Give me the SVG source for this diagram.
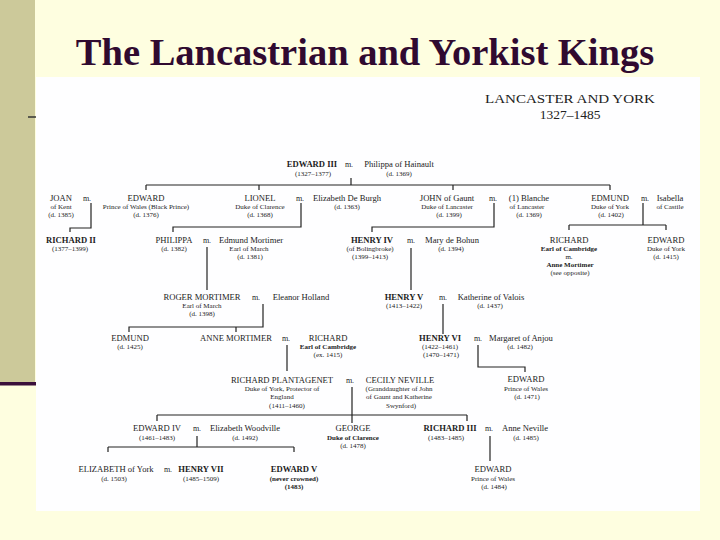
<svg xmlns="http://www.w3.org/2000/svg" width="720" height="540" viewBox="0 0 720 540">
<style>
text{font-family:"Liberation Serif","Times New Roman",serif;fill:#1c1c1c;text-anchor:middle}
.t{font-size:38.5px;font-weight:bold;fill:#300a30}
.h{font-size:13.5px;fill:#222}
.n{font-size:8.6px}
.b{font-weight:bold}
.s{font-size:7px}
.m{font-size:8px}
.ln{fill:none;stroke:#222;stroke-width:1.2}
</style>
<rect width="720" height="540" fill="#fefee0"/>
<rect x="0" y="0" width="35" height="383" fill="#ccc99a"/>
<rect x="0" y="382" width="36" height="3.5" fill="#3a0f3a"/>
<line x1="28" y1="117" x2="36" y2="117" stroke="#333" stroke-width="1.5"/>
<rect x="36" y="77" width="664" height="434" fill="#fefeff"/>
<text class="t" x="365" y="65">The Lancastrian and Yorkist Kings</text>
<g id="header">
<text class="h" x="570" y="103" textLength="170" lengthAdjust="spacingAndGlyphs">LANCASTER AND YORK</text>
<text class="h" x="570" y="118.5">1327–1485</text>
</g>
<g id="connectors" class="ln">
<path d="M351,178V185M146,185H610M146,185V190M259,185V190M453,185V190M610,185V190"/>
<path d="M91,203V228H70V232"/>
<path d="M301,203V227H173V232"/>
<path d="M494,203V227H372V232"/>
<path d="M643,203V225M569,225H666M569,225V230M666,225V230"/>
<path d="M207,247V290"/>
<path d="M411,248V290"/>
<path d="M263,304V327H129V332M236,327V332"/>
<path d="M443,304V334"/>
<path d="M287,345V371"/>
<path d="M478,345V367H525V372"/>
<path d="M352,387V423M157,415H467M157,415V421M467,415V421"/>
<path d="M197,436V447M108,447H294M108,447V452M294,447V452"/>
<path d="M490,436V461"/>
</g>
<g id="edward3">
<text class="n b" x="312" y="167">EDWARD III</text>
<text class="s" x="313" y="176">(1327–1377)</text>
<text class="m" x="349" y="167">m.</text>
<text class="n" x="399" y="167">Philippa of Hainault</text>
<text class="s" x="399" y="176">(d. 1369)</text>
</g>
<g id="joan">
<text class="n" x="61" y="201">JOAN</text>
<text class="s" x="61" y="209">of Kent</text>
<text class="s" x="61" y="217">(d. 1385)</text>
<text class="m" x="87" y="201">m.</text>
</g>
<g id="edward-bp">
<text class="n" x="146" y="201">EDWARD</text>
<text class="s" x="146" y="209">Prince of Wales (Black Prince)</text>
<text class="s" x="146" y="217">(d. 1376)</text>
</g>
<g id="lionel">
<text class="n" x="260" y="201">LIONEL</text>
<text class="s" x="260" y="209">Duke of Clarence</text>
<text class="s" x="260" y="217">(d. 1368)</text>
<text class="m" x="300" y="201">m.</text>
<text class="n" x="347" y="201">Elizabeth De Burgh</text>
<text class="s" x="347" y="209">(d. 1363)</text>
</g>
<g id="john">
<text class="n" x="447" y="201">JOHN of Gaunt</text>
<text class="s" x="447" y="209">Duke of Lancaster</text>
<text class="s" x="449" y="217">(d. 1399)</text>
<text class="m" x="493" y="201">m.</text>
<text class="n" x="529" y="201">(1) Blanche</text>
<text class="s" x="527" y="209">of Lancaster</text>
<text class="s" x="529" y="217">(d. 1369)</text>
</g>
<g id="edmund">
<text class="n" x="610" y="201">EDMUND</text>
<text class="s" x="610" y="209">Duke of York</text>
<text class="s" x="611" y="217">(d. 1402)</text>
<text class="m" x="645" y="201">m.</text>
<text class="n" x="670" y="201">Isabella</text>
<text class="s" x="670" y="209">of Castile</text>
</g>
<g id="richard2">
<text class="n b" x="71" y="243">RICHARD II</text>
<text class="s" x="70" y="251">(1377–1399)</text>
</g>
<g id="philippa">
<text class="n" x="174" y="243">PHILIPPA</text>
<text class="s" x="174" y="251">(d. 1382)</text>
<text class="m" x="207" y="243">m.</text>
<text class="n" x="251" y="243">Edmund Mortimer</text>
<text class="s" x="249" y="251">Earl of March</text>
<text class="s" x="250" y="259">(d. 1381)</text>
</g>
<g id="henry4">
<text class="n b" x="372" y="243">HENRY IV</text>
<text class="s" x="370" y="251">(of Bolingbroke)</text>
<text class="s" x="370" y="259">(1399–1413)</text>
<text class="m" x="411" y="243">m.</text>
<text class="n" x="452" y="243">Mary de Bohun</text>
<text class="s" x="451" y="251">(d. 1394)</text>
</g>
<g id="richard-cambridge">
<text class="n" x="569" y="243">RICHARD</text>
<text class="s b" x="569" y="251">Earl of Cambridge</text>
<text class="s" x="569" y="259">m.</text>
<text class="s b" x="570" y="267">Anne Mortimer</text>
<text class="s" x="570" y="275">(see opposite)</text>
</g>
<g id="edward-york">
<text class="n" x="666" y="243">EDWARD</text>
<text class="s" x="666" y="251">Duke of York</text>
<text class="s" x="666" y="259">(d. 1415)</text>
</g>
<g id="roger">
<text class="n" x="202" y="300">ROGER MORTIMER</text>
<text class="s" x="202" y="308">Earl of March</text>
<text class="s" x="202" y="316">(d. 1398)</text>
<text class="m" x="256" y="300">m.</text>
<text class="n" x="301" y="300">Eleanor Holland</text>
</g>
<g id="henry5">
<text class="n b" x="404" y="300">HENRY V</text>
<text class="s" x="404" y="308">(1413–1422)</text>
<text class="m" x="443" y="300">m.</text>
<text class="n" x="491" y="300">Katherine of Valois</text>
<text class="s" x="490" y="308">(d. 1437)</text>
</g>
<g id="edmund-m">
<text class="n" x="130" y="341">EDMUND</text>
<text class="s" x="130" y="349">(d. 1425)</text>
</g>
<g id="anne">
<text class="n" x="236" y="341">ANNE MORTIMER</text>
<text class="m" x="286" y="341">m.</text>
<text class="n" x="328" y="341">RICHARD</text>
<text class="s b" x="328" y="349">Earl of Cambridge</text>
<text class="s" x="328" y="357">(ex. 1415)</text>
</g>
<g id="henry6">
<text class="n b" x="440" y="341">HENRY VI</text>
<text class="s" x="440" y="349">(1422–1461)</text>
<text class="s" x="441" y="357">(1470–1471)</text>
<text class="m" x="478" y="341">m.</text>
<text class="n" x="521" y="341">Margaret of Anjou</text>
<text class="s" x="520" y="349">(d. 1482)</text>
</g>
<g id="richard-plantagenet">
<text class="n" x="282" y="383">RICHARD PLANTAGENET</text>
<text class="s" x="282" y="391">Duke of York, Protector of</text>
<text class="s" x="282" y="399">England</text>
<text class="s" x="287" y="408">(1411–1460)</text>
<text class="m" x="350" y="383">m.</text>
<text class="n" x="400" y="383">CECILY NEVILLE</text>
<text class="s" x="399" y="391">(Granddaughter of John</text>
<text class="s" x="399" y="399">of Gaunt and Katherine</text>
<text class="s" x="401" y="408">Swynford)</text>
</g>
<g id="edward-pw1">
<text class="n" x="526" y="382">EDWARD</text>
<text class="s" x="526" y="391">Prince of Wales</text>
<text class="s" x="527" y="399">(d. 1471)</text>
</g>
<g id="edward4">
<text class="n" x="157" y="431">EDWARD IV</text>
<text class="s" x="157" y="439.5">(1461–1483)</text>
<text class="m" x="197" y="431">m.</text>
<text class="n" x="245" y="431">Elizabeth Woodville</text>
<text class="s" x="245" y="439.5">(d. 1492)</text>
</g>
<g id="george">
<text class="n" x="353" y="431">GEORGE</text>
<text class="s b" x="353" y="439.5">Duke of Clarence</text>
<text class="s" x="353" y="447.5">(d. 1478)</text>
</g>
<g id="richard3">
<text class="n b" x="450" y="431">RICHARD III</text>
<text class="s" x="446" y="439.5">(1483–1485)</text>
<text class="m" x="489" y="431">m.</text>
<text class="n" x="525" y="431">Anne Neville</text>
<text class="s" x="526" y="439.5">(d. 1485)</text>
</g>
<g id="elizabeth">
<text class="n" x="116" y="472">ELIZABETH of York</text>
<text class="s" x="114" y="481">(d. 1503)</text>
<text class="m" x="168" y="472">m.</text>
<text class="n b" x="201" y="472">HENRY VII</text>
<text class="s" x="201" y="481">(1485–1509)</text>
</g>
<g id="edward5">
<text class="n b" x="294" y="472">EDWARD V</text>
<text class="s b" x="294" y="481">(never crowned)</text>
<text class="s b" x="294" y="489">(1483)</text>
</g>
<g id="edward-pw2">
<text class="n" x="493" y="472">EDWARD</text>
<text class="s" x="493" y="481">Prince of Wales</text>
<text class="s" x="494" y="489">(d. 1484)</text>
</g>
</svg>
